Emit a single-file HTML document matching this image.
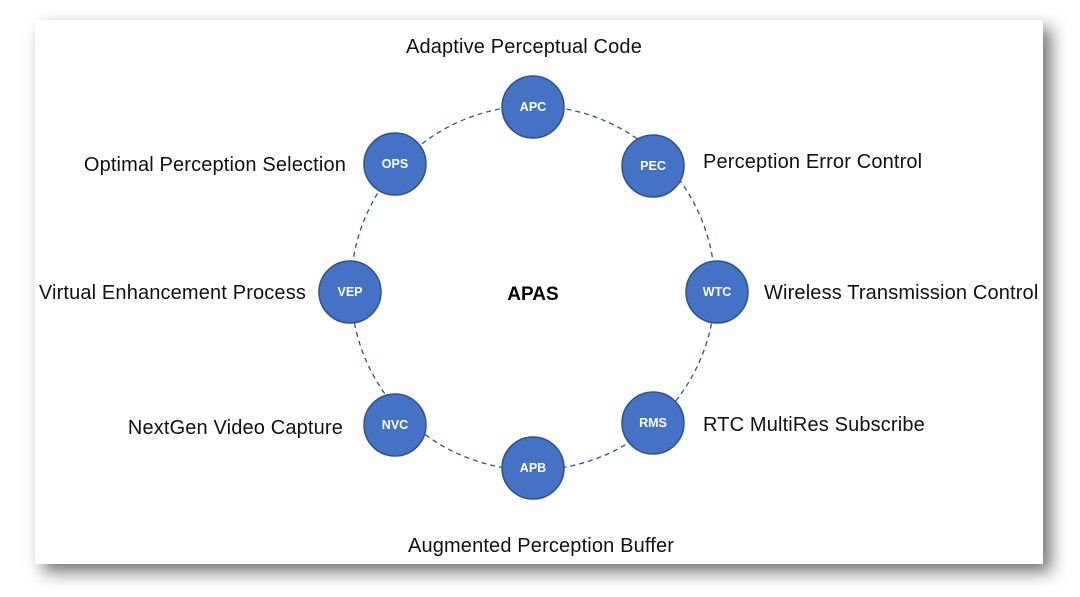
<!DOCTYPE html>
<html><head><style>
body{margin:0;width:1080px;height:597px;background:#fff;overflow:hidden;font-family:"Liberation Sans",sans-serif}
.card{position:absolute;left:35px;top:20px;width:1008px;height:544px;background:#fff;box-shadow:8px 8px 16px rgba(0,0,0,0.55)}
</style></head><body>
<div class="card"></div>
<svg width="1080" height="597" style="position:absolute;left:0;top:0" font-family="Liberation Sans, sans-serif">
<circle cx="533" cy="288" r="182" fill="none" stroke="#2f528f" stroke-width="1.3" stroke-dasharray="5,4"/>
<g fill="#4472c4" stroke="#2f528f" stroke-width="1.5">
<circle cx="533" cy="107" r="31"/><circle cx="653" cy="166" r="31"/><circle cx="717" cy="292" r="31"/><circle cx="653" cy="423" r="31"/>
<circle cx="533" cy="468" r="31"/><circle cx="395" cy="425" r="31"/><circle cx="350" cy="292" r="31"/><circle cx="395" cy="164" r="31"/>
</g>
<g fill="#fff" font-size="12.5" font-weight="bold" text-anchor="middle">
<text x="533" y="111">APC</text><text x="653" y="170">PEC</text><text x="717" y="296">WTC</text><text x="653" y="427">RMS</text>
<text x="533" y="472">APB</text><text x="395" y="429">NVC</text><text x="350" y="296">VEP</text><text x="395" y="168">OPS</text>
</g>
<text x="533" y="300" font-size="19" font-weight="bold" text-anchor="middle">APAS</text>
<g font-size="20" fill="#111" letter-spacing="0.15">
<text x="524" y="53" text-anchor="middle">Adaptive Perceptual Code</text>
<text x="703" y="168">Perception Error Control</text>
<text x="764" y="299">Wireless Transmission Control</text>
<text x="703" y="431">RTC MultiRes Subscribe</text>
<text x="541" y="552" text-anchor="middle">Augmented Perception Buffer</text>
<text x="343" y="434" text-anchor="end">NextGen Video Capture</text>
<text x="306" y="299" text-anchor="end">Virtual Enhancement Process</text>
<text x="346" y="171" text-anchor="end">Optimal Perception Selection</text>
</g>
</svg>
</body></html>
